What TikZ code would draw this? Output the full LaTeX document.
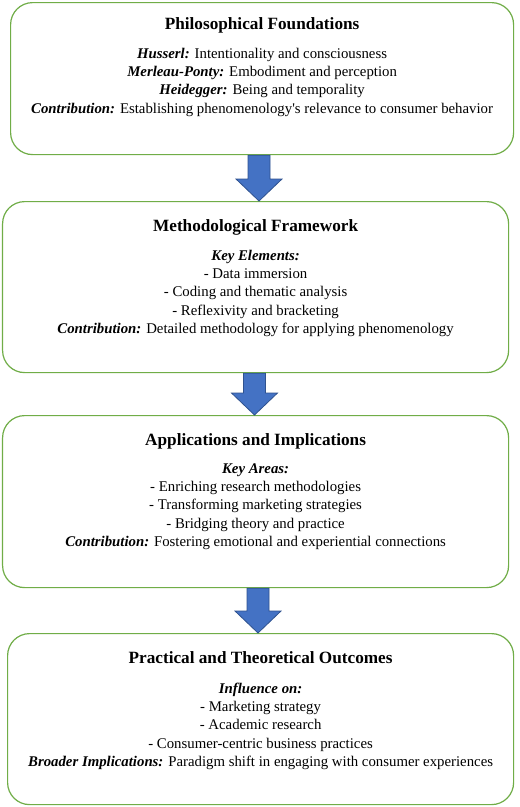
\documentclass[tikz,border=0pt]{standalone}
\usepackage{fontspec}
\setmainfont{Liberation Serif}
\usepackage{tikz}
\usepackage{xcolor}
\usetikzlibrary{calc, positioning}
\definecolor{boxgreen}{HTML}{70AD47}
\definecolor{flowblue}{HTML}{4472C4}
\definecolor{flowedge}{HTML}{2F528F}
\newcommand{\key}[1]{{\bfseries\itshape #1}}

\begin{document}
\begin{tikzpicture}[
    box/.style={draw=boxgreen, line width=1.2pt, rounded corners=22pt, inner sep=0pt, anchor=north west},
    head/.style={font=\bfseries\fontsize{17.2}{20}\selectfont, inner sep=0pt, anchor=base},
    body/.style={font=\fontsize{14.8}{18.4}\selectfont, align=center, inner sep=0pt, anchor=north},
    flow/.style={draw=flowedge, fill=flowblue, line width=0.8pt, line join=miter}
]
                        \path[use as bounding box, fill=white] (0,0) rectangle (520pt,-807pt);

                        \node[box, minimum width=503pt, minimum height=152pt] (phil) at (10pt,-2pt) {};
                        \node[box, minimum width=506pt, minimum height=171pt] (meth) at (2pt,-201pt) {};
                        \node[box, minimum width=506pt, minimum height=172pt] (appl) at (2pt,-415pt) {};
                        \node[box, minimum width=506pt, minimum height=171pt] (outc) at (7pt,-633pt) {};

                        \node[head] (philt) at ([yshift=-27pt]phil.north) {Philosophical Foundations};
                        \node[body] (philb) at ([yshift=-43.1pt]phil.north) {\strut\key{Husserl:} Intentionality and consciousness\\
                            \key{Merleau-Ponty:} Embodiment and perception\\
                            \key{Heidegger:} Being and temporality\\
                            \key{Contribution:} Establishing phenomenology\textquotesingle s relevance to consumer behavior};

                        \node[head] (metht) at ([yshift=-30pt]meth.north) {Methodological Framework};
                        \node[body] (methb) at ([yshift=-46.1pt]meth.north) {\strut\key{Key Elements:}\\
                            - Data immersion\\
                            - Coding and thematic analysis\\
                            - Reflexivity and bracketing\\
                            \key{Contribution:} Detailed methodology for applying phenomenology};

                        \node[head] (applt) at ([yshift=-30pt]appl.north) {Applications and Implications};
                        \node[body] (applb) at ([yshift=-45.1pt]appl.north) {\strut\key{Key Areas:}\\
                            - Enriching research methodologies\\
                            - Transforming marketing strategies\\
                            - Bridging theory and practice\\
                            \key{Contribution:} Fostering emotional and experiential connections};

                        \node[head] (outct) at ([yshift=-30pt]outc.north) {Practical and Theoretical Outcomes};
                        \node[body] (outcb) at ([yshift=-47.1pt]outc.north) {\strut\key{Influence on:}\\
                            - Marketing strategy\\
                            - Academic research\\
                            - Consumer-centric business practices\\
                            \key{Broader Implications:} Paradigm shift in engaging with consumer experiences};

                        \coordinate (ax1) at (259pt,0);
                        \coordinate (ax2) at (254.5pt,0);
                        \coordinate (ax3) at (258pt,0);

                        \foreach \a/\b/\c in {phil/meth/ax1, meth/appl/ax2, appl/outc/ax3}
                            \draw[flow]
                            ($(\c |- \a.south)+(-11pt,0)$) -- ($(\c |- \a.south)+(11pt,0)$)
                            -- ($(\c |- \b.north)+(11pt,22pt)$) -- ($(\c |- \b.north)+(23pt,22pt)$)
                            -- (\c |- \b.north)
                            -- ($(\c |- \b.north)+(-23pt,22pt)$) -- ($(\c |- \b.north)+(-11pt,22pt)$) -- cycle;
                    \end{tikzpicture}
\end{document}
